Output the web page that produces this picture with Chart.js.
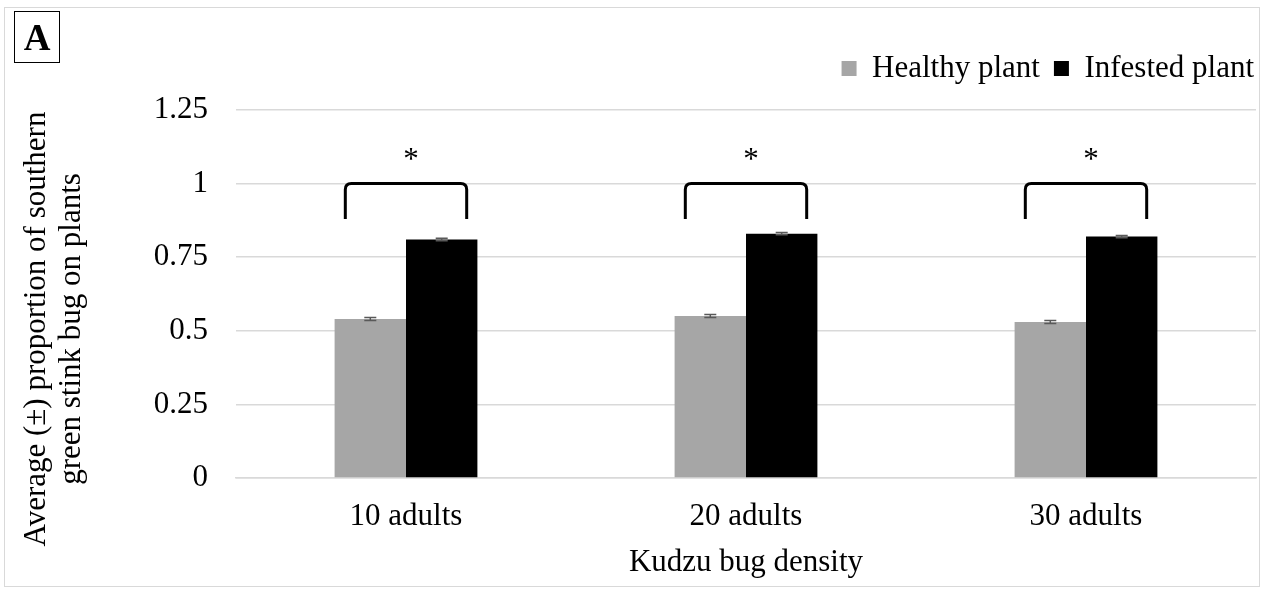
<!DOCTYPE html>
<html>
<head>
<meta charset="utf-8">
<script src="https://cdn.jsdelivr.net/npm/chart.js@4.4.1/dist/chart.umd.min.js"></script>
<style>
  body { margin: 0; background: #fff; }
  #wrap { position: absolute; left: 4px; top: 7px; width: 1254px; height: 578px; border: 1px solid #d9d9d9; }
  #panel { position: absolute; left: 14px; top: 11px; width: 44px; height: 50px; border: 1.5px solid #000;
           font: bold 37px "Liberation Serif", serif; text-align: center; line-height: 52px; }
</style>
</head>
<body>
<div id="wrap"><canvas id="myChart" width="1254" height="578"></canvas></div>
<div id="panel">A</div>
<script>
let categories = ["10 adults", "20 adults", "30 adults"]
let healthy = [0.54, 0.55, 0.53]
let infested = [0.81, 0.83, 0.82]
let healthyErr = [0.005, 0.005, 0.005]
let infestedErr = [0.004, 0.004, 0.004]
let bracketTop = 1.0
let bracketFoot = 0.88
let starLevel = 1.05
let yTicks = [0, 0.25, 0.5, 0.75, 1, 1.25]
let yTitle = ['Average (±) proportion of southern', 'green stink bug on plants']

const serif = '"Liberation Serif", "Times New Roman", serif'
const fontSize = 31

// error bars, brackets, stars and the y title (sits lower than the plot centre in the original)
const extras = {
    id: 'extras',
    afterLayout(chart) {
        // legend sits higher and flush right in the original
        chart.legend.left += 12
        chart.legend.right += 12
        chart.legend.top -= 16
        chart.legend.bottom -= 16
    },
    afterDatasetsDraw(chart) {
        let ctx = chart.ctx
        let y = chart.scales.y
        let errs = [healthyErr, infestedErr]
        ctx.save()
        // error bars
        ctx.strokeStyle = '#595959'
        ctx.lineWidth = 1.5
        for (let d = 0; d < 2; d++) {
            let meta = chart.getDatasetMeta(d)
            meta.data.forEach((bar, i) => {
                let v = chart.data.datasets[d].data[i]
                let top = y.getPixelForValue(v + errs[d][i])
                let bot = y.getPixelForValue(v - errs[d][i])
                ctx.beginPath()
                ctx.moveTo(bar.x, top); ctx.lineTo(bar.x, bot)
                ctx.moveTo(bar.x - 6, top); ctx.lineTo(bar.x + 6, top)
                ctx.moveTo(bar.x - 6, bot); ctx.lineTo(bar.x + 6, bot)
                ctx.stroke()
            })
        }
        // brackets + significance stars
        let m0 = chart.getDatasetMeta(0), m1 = chart.getDatasetMeta(1)
        ctx.strokeStyle = '#000'
        ctx.lineWidth = 3
        ctx.fillStyle = '#000'
        ctx.font = fontSize + 'px ' + serif
        ctx.textAlign = 'center'
        ctx.textBaseline = 'alphabetic'
        categories.forEach((c, i) => {
            let b0 = m0.data[i], b1 = m1.data[i]
            let left = b0.x - b0.width * 0.35
            let right = b1.x + b1.width * 0.35
            let yt = y.getPixelForValue(bracketTop)
            let yf = y.getPixelForValue(bracketFoot)
            let r = 6
            ctx.beginPath()
            ctx.moveTo(left, yf)
            ctx.lineTo(left, yt + r)
            ctx.quadraticCurveTo(left, yt, left + r, yt)
            ctx.lineTo(right - r, yt)
            ctx.quadraticCurveTo(right, yt, right, yt + r)
            ctx.lineTo(right, yf)
            ctx.stroke()
            ctx.fillText('*', (b0.x + b1.x) / 2 + 5, y.getPixelForValue(starLevel))
        })
        // y axis title
        ctx.translate(0, 321)
        ctx.rotate(-Math.PI / 2)
        ctx.fillText(yTitle[0], 0, 40)
        ctx.fillText(yTitle[1], 0, 75)
        ctx.restore()
    }
}

let data = {
    labels: categories,
    datasets: [{
        label: 'Healthy plant',
        data: healthy,
        backgroundColor: '#a6a6a6'
    },
    {
        label: 'Infested plant',
        data: infested,
        backgroundColor: '#000000'
    }]
}

let config = {
    type: 'bar',
    data: data,
    plugins: [extras],
    options: {
        responsive: false,
        animation: false,
        datasets: { bar: { categoryPercentage: 0.42, barPercentage: 1.0 } },
        layout: { padding: { left: 0, right: 3, top: 47, bottom: 0 } },
        plugins: {
            tooltip: { enabled: false },
            legend: {
                position: 'top',
                align: 'end',
                labels: {
                    font: { family: serif, size: fontSize },
                    color: '#000',
                    boxWidth: 15,
                    boxHeight: 15,
                    padding: 14
                }
            }
        },
        scales: {
            x: {
                grid: { display: false },
                border: { color: '#d9d9d9', width: 1.5 },
                ticks: { font: { family: serif, size: fontSize }, color: '#000', padding: 12 },
                title: { display: true, text: 'Kudzu bug density', font: { family: serif, size: fontSize }, color: '#000', padding: { top: 0, bottom: 5 } },
                afterFit: (s) => { s.height = 108 }
            },
            y: {
                min: 0,
                max: 1.25,
                afterBuildTicks: (s) => { s.ticks = yTicks.map(v => ({ value: v })) },
                grid: { color: '#d9d9d9', lineWidth: 1.5, drawTicks: false },
                border: { display: false },
                ticks: { font: { family: serif, size: fontSize }, color: '#000', padding: 28, callback: (v) => String(v) },
                afterFit: (s) => { s.width = 231 }
            }
        }
    }
}

let myChart = new Chart(document.getElementById("myChart"), config)
</script>
</body>
</html>
